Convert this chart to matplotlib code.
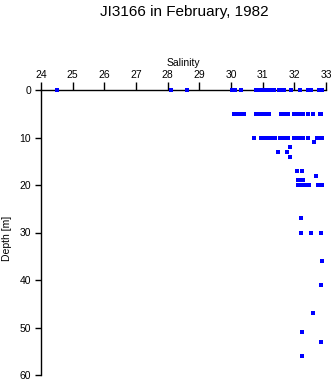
import numpy as np
import matplotlib.pyplot as plt

plt.rcParams['font.family'] = ['Liberation Sans', 'DejaVu Sans']

# salinity readings at each sampled depth (m)
sal_0 = [24.52, 28.10, 28.62, 30.02, 30.07, 30.12, 30.33, 30.79, 30.90, 30.97,
         31.05, 31.10, 31.23, 31.30, 31.37, 31.53, 31.60, 31.68, 31.89,
         32.18, 32.42, 32.52, 32.79, 32.84, 32.88]
sal_5 = [30.10, 30.16, 30.22, 30.31, 30.41, 30.79, 30.84, 30.89, 31.02, 31.08,
         31.21, 31.58, 31.63, 31.67, 31.79, 31.99, 32.08, 32.15, 32.26,
         32.44, 32.60, 32.80, 32.85]
sal_10 = [30.73, 30.95, 31.00, 31.05, 31.10, 31.18, 31.25, 31.40, 31.55,
          31.62, 31.75, 31.80, 31.99, 32.06, 32.15, 32.28, 32.44, 32.70,
          32.80, 32.88]
sal_11 = [32.63]
sal_12 = [31.86]
sal_13 = [31.49, 31.76]
sal_14 = [31.86]
sal_17 = [32.09, 32.23]
sal_18 = [32.67]
sal_19 = [32.12, 32.18, 32.26]
sal_20 = [32.12, 32.18, 32.24, 32.33, 32.47, 32.76, 32.82, 32.88]
sal_27 = [32.21]
sal_30 = [32.22, 32.52, 32.84]
sal_36 = [32.88]
sal_41 = [32.85]
sal_47 = [32.58]
sal_51 = [32.23]
sal_53 = [32.85]
sal_56 = [32.23]

levels = [(0, sal_0), (5, sal_5), (10, sal_10), (11, sal_11), (12, sal_12),
          (13, sal_13), (14, sal_14), (17, sal_17), (18, sal_18), (19, sal_19),
          (20, sal_20), (27, sal_27), (30, sal_30), (36, sal_36), (41, sal_41),
          (47, sal_47), (51, sal_51), (53, sal_53), (56, sal_56)]

salinity = np.concatenate([s for d, s in levels])
depth = np.concatenate([[d] * len(s) for d, s in levels])

fig = plt.figure(figsize=(3.35, 3.84), dpi=100)
ax = fig.add_axes([41 / 335, 1 - 375 / 384, 285 / 335, 285 / 384])

ax.plot(salinity, depth, 's', color='#0000ff', markersize=2.2,
        markeredgewidth=0, antialiased=False, clip_on=False, zorder=3)

ax.set_xlim(24, 33)
ax.set_ylim(60, 0)
ax.set_xticks(np.arange(24, 34))
ax.set_yticks(np.arange(0, 61, 10))

ax.xaxis.tick_top()
ax.xaxis.set_label_position('top')
ax.spines['right'].set_visible(False)
ax.spines['bottom'].set_visible(False)
for sp in ('top', 'left'):
    ax.spines[sp].set_linewidth(1.0)
ax.tick_params(axis='x', direction='out', length=6, width=1.0, labelsize=7.5, pad=1)
ax.tick_params(axis='y', direction='out', length=4, width=1.0, labelsize=7.5, pad=3)

ax.set_xlabel('Salinity', fontsize=7.5, labelpad=3)
ax.set_ylabel('Depth [m]', fontsize=7.5, labelpad=8)
ax.yaxis.set_label_coords(-0.1, 0.48)

fig.text(184 / 335, 1 - 12 / 384, 'JI3166 in February, 1982', ha='center',
         va='center', fontsize=11)

fig.savefig('out.png', dpi=100)
plt.close(fig)
